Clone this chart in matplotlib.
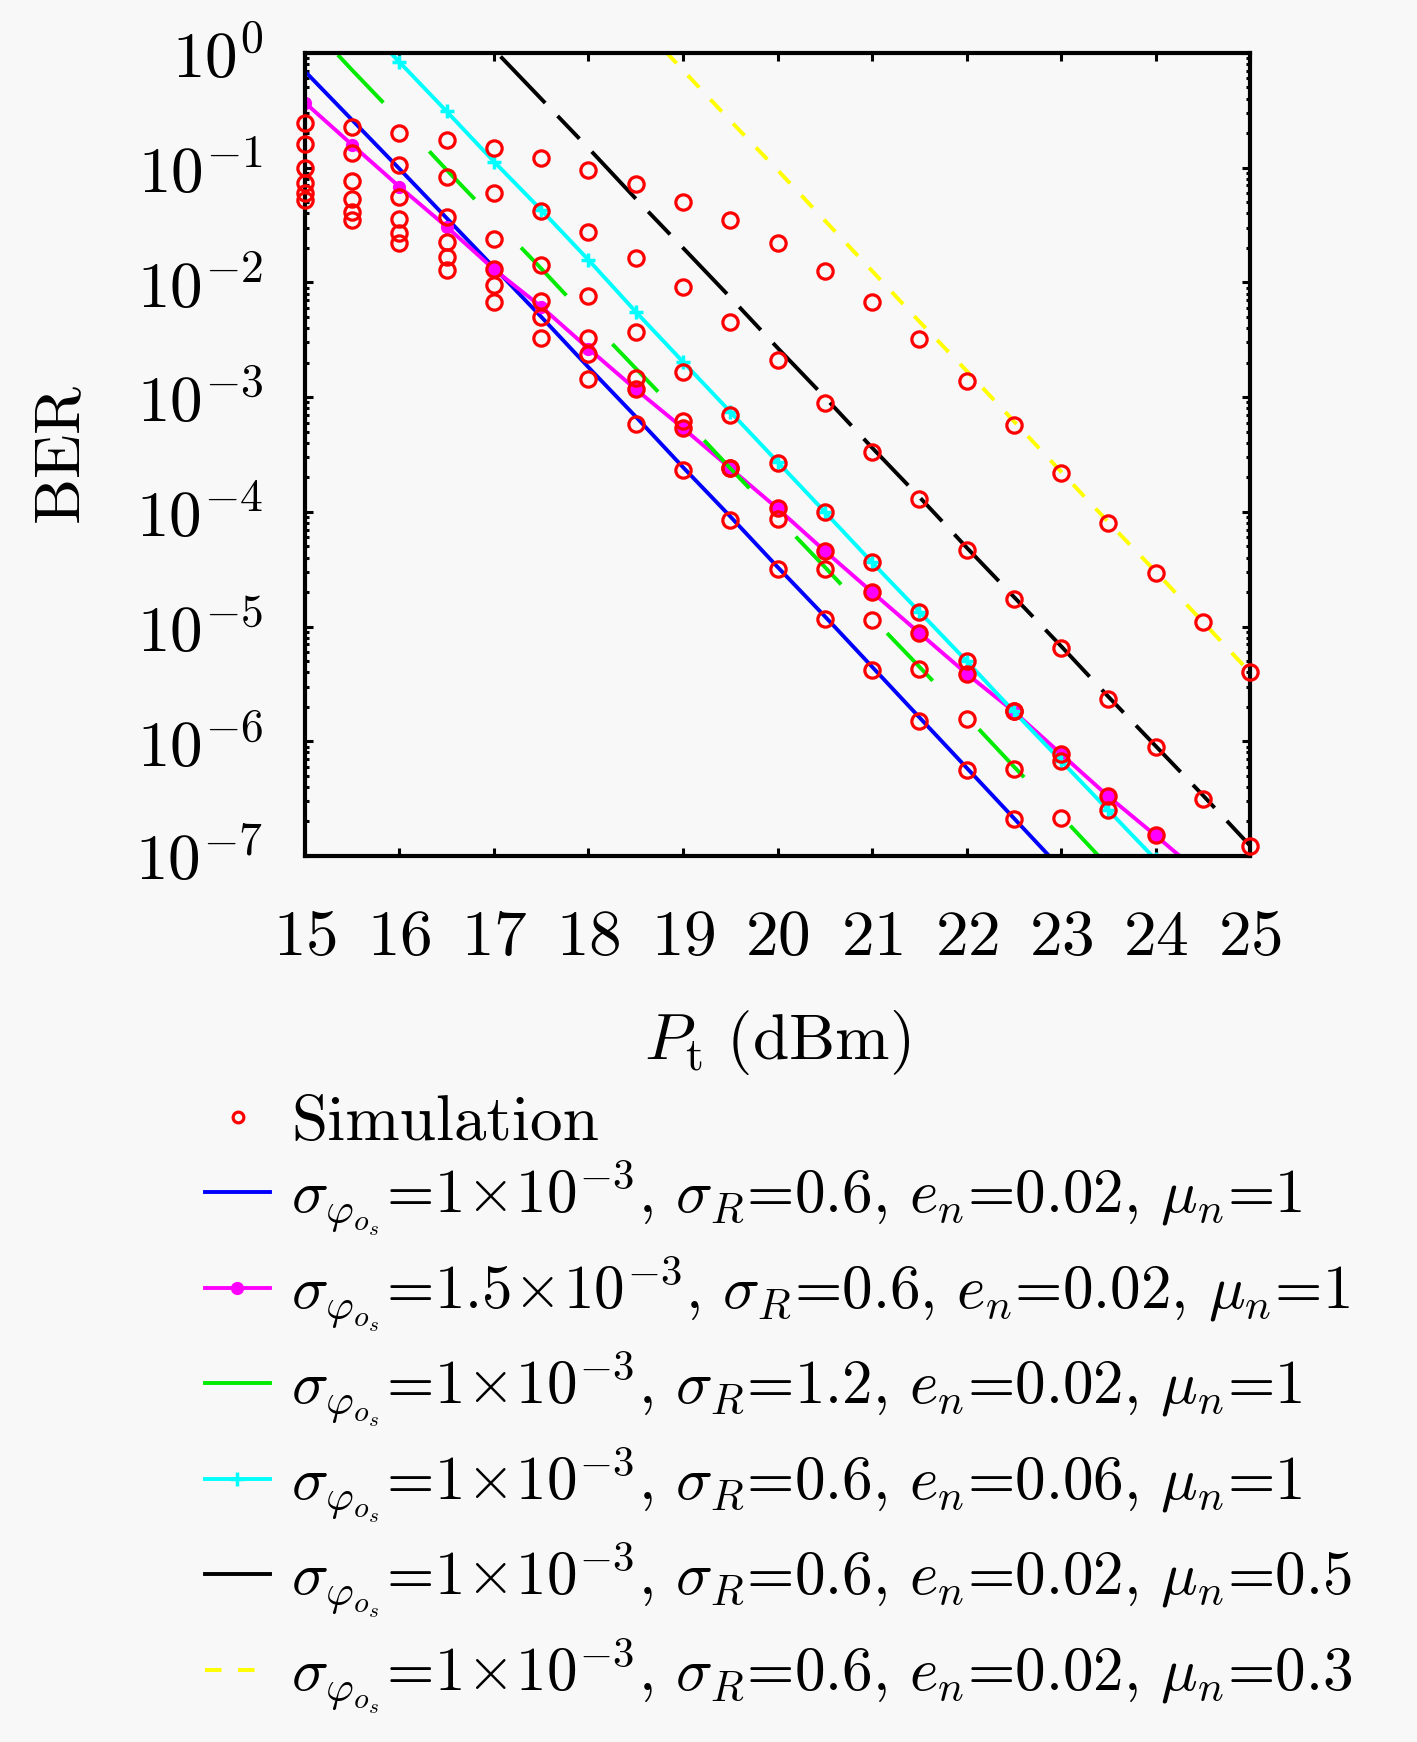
import matplotlib
matplotlib.use("Agg")
import matplotlib.pyplot as plt
from matplotlib.ticker import FixedLocator, LogLocator, NullFormatter

plt.rcParams['mathtext.fontset'] = 'cm'
plt.rcParams['lines.scale_dashes'] = False
plt.rcParams['axes.unicode_minus'] = False

# ---------------- data ----------------
P_grid = [15, 15.5, 16, 16.5, 17, 17.5, 18, 18.5, 19, 19.5, 20, 20.5,
          21, 21.5, 22, 22.5, 23, 23.5, 24, 24.5, 25]

# simulation points (red circles)
sim_yellow = [0.247, 0.225, 0.200, 0.174, 0.148, 0.121, 0.0955, 0.0721, 0.0505, 0.0350,
              0.0219, 0.0126, 6.76e-3, 3.24e-3, 1.38e-3, 5.75e-4, 2.19e-4, 7.94e-5,
              2.95e-5, 1.10e-5, 3.98e-6]
sim_black = [0.160, 0.133, 0.105, 0.0836, 0.0605, 0.0422, 0.0273, 0.0162, 9.16e-3, 4.54e-3,
             2.12e-3, 8.81e-4, 3.33e-4, 1.29e-4, 4.68e-5, 1.75e-5, 6.46e-6, 2.34e-6,
             8.91e-7, 3.16e-7, 1.23e-7]
sim_cyan = [0.100, 0.0771, 0.0558, 0.0374, 0.0239, 0.0141, 7.60e-3, 3.72e-3, 1.66e-3,
            6.92e-4, 2.69e-4, 1.00e-4, 3.63e-5, 1.35e-5, 5.01e-6, 1.82e-6, 6.76e-7, 2.51e-7]
sim_green = [0.0729, 0.0530, 0.0354, 0.0226, 0.0132, 6.87e-3, 3.29e-3, 1.46e-3, 6.17e-4,
             2.40e-4, 8.71e-5, 3.16e-5, 1.15e-5, 4.27e-6, 1.58e-6, 5.75e-7, 2.14e-7]
sim_magenta = [0.0597, 0.0413, 0.0271, 0.0167, 9.48e-3, 5.02e-3, 2.40e-3, 1.17e-3, 5.37e-4,
               2.40e-4, 1.07e-4, 4.57e-5, 2.00e-5, 8.81e-6, 3.89e-6, 1.82e-6, 7.76e-7,
               3.31e-7, 1.51e-7]
sim_blue = [0.0522, 0.0350, 0.0222, 0.0128, 6.70e-3, 3.25e-3, 1.43e-3, 5.82e-4, 2.31e-4,
            8.51e-5, 3.16e-5, 1.17e-5, 4.17e-6, 1.51e-6, 5.62e-7, 2.09e-7]

# theory curves
P_blue = [15, 15.5, 16, 16.5, 17, 17.5, 18, 18.5, 19, 19.5, 20, 20.5, 21, 21.5, 22, 22.5, 23]
th_blue = [0.692, 0.260, 0.0977, 0.0363, 0.0135, 5.01e-3, 1.82e-3, 6.76e-4, 2.45e-4, 9.12e-5,
           3.31e-5, 1.23e-5, 4.47e-6, 1.62e-6, 5.89e-7, 2.14e-7, 7.76e-8]
P_magenta = [15, 15.5, 16, 16.5, 17, 17.5, 18, 18.5, 19, 19.5, 20, 20.5, 21, 21.5, 22, 22.5,
             23, 23.5, 24, 24.5]
th_magenta = [0.369, 0.158, 0.0682, 0.0305, 0.0130, 6.14e-3, 2.65e-3, 1.17e-3, 5.37e-4,
              2.40e-4, 1.07e-4, 4.57e-5, 2.00e-5, 8.81e-6, 3.89e-6, 1.82e-6, 7.76e-7,
              3.31e-7, 1.51e-7, 6.76e-8]
P_green = [15, 15.5, 16, 16.5, 17, 17.5, 18, 18.5, 19, 19.5, 20, 20.5, 21, 21.5, 22, 22.5,
           23, 23.5]
th_green = [1.95, 0.708, 0.263, 0.0955, 0.0355, 0.0132, 4.79e-3, 1.78e-3, 6.61e-4, 2.40e-4,
            8.91e-5, 3.31e-5, 1.20e-5, 4.47e-6, 1.66e-6, 6.03e-7, 2.24e-7, 8.13e-8]
P_cyan = [15.5, 16, 16.5, 17, 17.5, 18, 18.5, 19, 19.5, 20, 20.5, 21, 21.5, 22, 22.5, 23,
          23.5, 24]
th_cyan = [2.24, 0.832, 0.309, 0.113, 0.0428, 0.0157, 5.55e-3, 2.03e-3, 7.45e-4, 2.73e-4,
           1.00e-4, 3.63e-5, 1.35e-5, 5.01e-6, 1.82e-6, 6.76e-7, 2.51e-7, 9.33e-8]
P_black = [17, 17.5, 18, 18.5, 19, 19.5, 20, 20.5, 21, 21.5, 22, 22.5, 23, 23.5, 24, 24.5, 25]
th_black = [1.07, 0.398, 0.148, 0.0537, 0.0200, 7.41e-3, 2.69e-3, 1.00e-3, 3.63e-4, 1.35e-4,
            4.90e-5, 1.82e-5, 6.76e-6, 2.45e-6, 9.12e-7, 3.39e-7, 1.23e-7]
P_yellow = [18.5, 19, 19.5, 20, 20.5, 21, 21.5, 22, 22.5, 23, 23.5, 24, 24.5, 25]
th_yellow = [1.95, 0.708, 0.257, 0.0955, 0.0347, 0.0126, 4.57e-3, 1.70e-3, 6.17e-4, 2.24e-4,
             8.13e-5, 3.02e-5, 1.10e-5, 3.98e-6]

x_ticks = [15, 16, 17, 18, 19, 20, 21, 22, 23, 24, 25]
x_tick_labels = [r'$%d$' % v for v in x_ticks]
y_ticks = [1e0, 1e-1, 1e-2, 1e-3, 1e-4, 1e-5, 1e-6, 1e-7]
y_tick_labels = [r'$10^{0}$', r'$10^{-1}$', r'$10^{-2}$', r'$10^{-3}$', r'$10^{-4}$',
                 r'$10^{-5}$', r'$10^{-6}$', r'$10^{-7}$']

SIG = r'$\sigma_{\varphi_{o_s}}$'
sim_label = 'Simulation'
labels = [
    SIG + r'=1$\!\times\!$10$^{-3}$, $\sigma_R$=0.6, $e_n$=0.02, $\mu_n$=1',
    SIG + r'=1.5$\!\times\!$10$^{-3}$, $\sigma_R$=0.6, $e_n$=0.02, $\mu_n$=1',
    SIG + r'=1$\!\times\!$10$^{-3}$, $\sigma_R$=1.2, $e_n$=0.02, $\mu_n$=1',
    SIG + r'=1$\!\times\!$10$^{-3}$, $\sigma_R$=0.6, $e_n$=0.06, $\mu_n$=1',
    SIG + r'=1$\!\times\!$10$^{-3}$, $\sigma_R$=0.6, $e_n$=0.02, $\mu_n$=0.5',
    SIG + r'=1$\!\times\!$10$^{-3}$, $\sigma_R$=0.6, $e_n$=0.02, $\mu_n$=0.3',
]

# ---------------- figure ----------------
BG = '#f8f8f8'
FS = 47
FS_LEG = 44
fig = plt.figure(figsize=(14.17, 17.42), dpi=100, facecolor=BG)
ax = fig.add_axes([0.2152, 0.5086, 0.6670, 0.4610], facecolor=BG)
ax.set_yscale('log')

lw = 2.8
h_blue, = ax.plot(P_blue, th_blue, '-', color=(0, 0, 1), lw=lw)
h_mag, = ax.plot(P_magenta, th_magenta, '-', color=(1, 0, 1), lw=lw,
                 marker='o', ms=8.5, mec=(1, 0, 1), mfc=(1, 0, 1))
h_green, = ax.plot(P_green, th_green, color=(0, 0.92, 0), lw=lw,
                   ls=(61, (47.5, 48.2)))
h_cyan, = ax.plot(P_cyan, th_cyan, '-', color=(0, 1, 1), lw=lw,
                  marker='+', ms=10, mew=2.5)
h_black, = ax.plot(P_black, th_black, color='black', lw=lw,
                   ls=(88, (46.4, 12.9, 22.7, 12.9)))
h_yel, = ax.plot(P_yellow, th_yellow, color=(1, 1, 0), lw=lw,
                 ls=(16.5, (11.9, 11.9)))

sim_sets = [sim_yellow, sim_black, sim_cyan, sim_green, sim_magenta, sim_blue]
h_sim = None
for s in sim_sets:
    h, = ax.plot(P_grid[:len(s)], s, 'o', ls='none', ms=11, mfc='none',
                 mec=(1, 0, 0), mew=2.3, clip_on=False, zorder=5)
    if h_sim is None:
        h_sim = h

ax.set_xlim(15, 25)
ax.set_ylim(1e-7, 1e0)
ax.xaxis.set_major_locator(FixedLocator(x_ticks))
ax.set_xticklabels(x_tick_labels)
ax.yaxis.set_major_locator(FixedLocator(y_ticks))
ax.set_yticklabels(y_tick_labels)
ax.yaxis.set_minor_locator(LogLocator(base=10, subs=range(2, 10), numticks=20))
ax.yaxis.set_minor_formatter(NullFormatter())

for sp in ax.spines.values():
    sp.set_linewidth(3.0)
ax.tick_params(which='both', direction='in', top=True, right=True, width=2.2,
               labelsize=FS)
ax.tick_params(which='major', length=6)
ax.tick_params(which='minor', length=3)
ax.tick_params(axis='x', pad=35)
ax.tick_params(axis='y', pad=30)

ax.set_xlabel(r'$P_{\mathrm{t}}\ (\mathrm{dBm})$', fontsize=FS, labelpad=28)
ax.set_ylabel(r'$\mathrm{BER}$', fontsize=FS, labelpad=30)

# legend: simulation entry
leg1 = fig.legend([h_sim], [sim_label], loc='upper left', bbox_to_anchor=(0.1447, 0.372),
                  frameon=False, prop={'family': 'cmr10', 'size': FS},
                  handlelength=1.0, handletextpad=0.33,
                  borderpad=0, borderaxespad=0, markerscale=0.7)
# legend: theory curves
handles = [h_blue, h_mag, h_green, h_cyan, h_black, h_yel]
leg2 = fig.legend(handles, labels, loc='upper left', bbox_to_anchor=(0.1447, 0.3346),
                  frameon=False, prop={'family': 'cmr10', 'size': FS_LEG},
                  handlelength=1.06, handletextpad=0.35,
                  labelspacing=0.267, borderpad=0, borderaxespad=0)
lh = leg2.legend_handles
lh[2].set_linestyle('-')
lh[4].set_linestyle('-')
lh[5].set_linestyle((0, (11.9, 11.9)))

fig.savefig('out.png', dpi=100, facecolor=BG)
